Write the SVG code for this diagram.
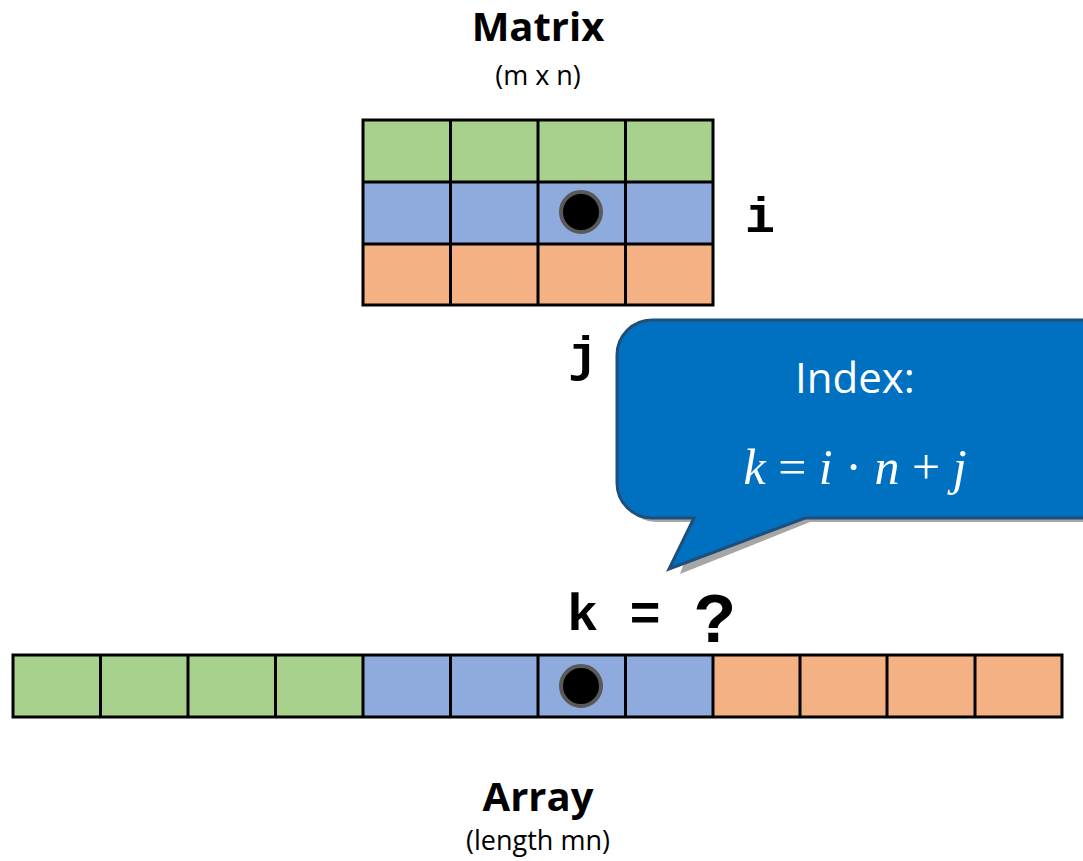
<svg xmlns="http://www.w3.org/2000/svg" width="1083" height="861" viewBox="0 0 1083 861">
<style>
.g{fill:#A9D18E}.b{fill:#8FAADC}.o{fill:#F4B183}
.c{stroke:#000;stroke-width:3;}
.t{font-family:"Open Sans","Liberation Sans",sans-serif;text-anchor:middle;fill:#000}
.m{font-family:"Liberation Mono","DejaVu Sans Mono",monospace;font-weight:bold;fill:#000}
.dot{fill:#000;stroke:#595959;stroke-width:4}
</style>
<rect width="1083" height="861" fill="#fff"/>
<g id="title-matrix">
<text class="t" x="538" y="41" font-size="40" font-weight="bold">Matrix</text>
<text class="t" x="538" y="85" font-size="27">(m x n)</text>
</g>
<g id="matrix">
<rect class="g" x="363" y="120" width="350" height="62"/>
<rect class="b" x="363" y="182" width="350" height="62"/>
<rect class="o" x="363" y="244" width="350" height="61"/>
<g class="c" fill="none">
<rect x="363" y="120" width="350" height="185"/>
<line x1="363" y1="182" x2="713" y2="182"/>
<line x1="363" y1="244" x2="713" y2="244"/>
<line x1="450.5" y1="120" x2="450.5" y2="305"/>
<line x1="538" y1="120" x2="538" y2="305"/>
<line x1="625.5" y1="120" x2="625.5" y2="305"/>
</g>
<circle class="dot" cx="581" cy="212" r="20"/>
</g>
<g id="label-i"><text class="m" x="745" y="232" font-size="50">i</text></g>
<g id="label-j"><text class="m" x="568" y="371" font-size="50">j</text></g>
<g id="callout">
<path d="M656,325 H1083 V522 H810 L680,574 L699,522 H656 A35,35 0 0 1 621,487 V360 A35,35 0 0 1 656,325 Z" fill="#A6A6A6"/>
<path d="M652,320 H1090 V518 H805 L669,569 L694,518 H652 A35,35 0 0 1 617,483 V355 A35,35 0 0 1 652,320 Z" fill="#0070C0" stroke="#1F4E79" stroke-width="3"/>
<text x="855" y="393" font-family="Open Sans,Liberation Sans,sans-serif" font-size="42" fill="#fff" text-anchor="middle">Index:</text>
<text x="855" y="484" font-family="Liberation Serif,DejaVu Serif,serif" font-size="50" fill="#fff" text-anchor="middle"><tspan font-style="italic">k</tspan> = <tspan font-style="italic">i</tspan> · <tspan font-style="italic">n</tspan> + <tspan font-style="italic">j</tspan></text>
</g>
<g id="label-k"><text class="m" x="567" y="630" font-size="52">k =</text><text class="m" x="694" y="642" font-size="70">?</text></g>
<g id="array">
<rect class="g" x="13" y="655" width="350" height="62"/>
<rect class="b" x="363" y="655" width="350" height="62"/>
<rect class="o" x="713" y="655" width="349" height="62"/>
<g class="c" fill="none">
<rect x="13" y="655" width="1049" height="62"/>
<line x1="100.5" y1="655" x2="100.5" y2="717"/>
<line x1="188" y1="655" x2="188" y2="717"/>
<line x1="275.5" y1="655" x2="275.5" y2="717"/>
<line x1="363" y1="655" x2="363" y2="717"/>
<line x1="450.5" y1="655" x2="450.5" y2="717"/>
<line x1="538" y1="655" x2="538" y2="717"/>
<line x1="625.5" y1="655" x2="625.5" y2="717"/>
<line x1="713" y1="655" x2="713" y2="717"/>
<line x1="800" y1="655" x2="800" y2="717"/>
<line x1="887" y1="655" x2="887" y2="717"/>
<line x1="975" y1="655" x2="975" y2="717"/>
</g>
<circle class="dot" cx="581" cy="686" r="20"/>
</g>
<g id="title-array">
<text class="t" x="538" y="811" font-size="40" font-weight="bold">Array</text>
<text class="t" x="538" y="850" font-size="27">(length mn)</text>
</g>
</svg>
